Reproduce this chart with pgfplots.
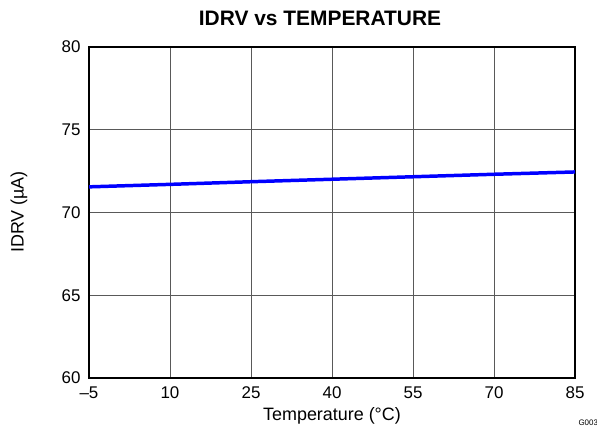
\documentclass[border=0pt]{standalone}
\usepackage{pgfplots}
\pgfplotsset{compat=1.18}
\usepackage{fontspec}
\setmainfont{Liberation Sans}
\begin{document}
\begin{tikzpicture}[x=1bp,y=1bp]
\path[use as bounding box] (-89,-53) rectangle (508,378);
\begin{axis}[
  at={(0,0)}, anchor=south west,
  scale only axis,
  width=486bp, height=331bp,
  xmin=-5, xmax=85, ymin=60, ymax=80,
  xtick={-5,10,25,40,55,70,85},
  xticklabels={\textendash5,10,25,40,55,70,85},
  ytick={60,65,70,75,80},
  grid=major,
  major grid style={line width=0.8pt, draw=black!65},
  axis line style={line width=2pt, black},
  tick style={draw=none},
  /pgf/number format/assume math mode=true,
  ticklabel style={font=\fontsize{17}{19}\selectfont},
  xticklabel style={yshift=-5bp},
  yticklabel style={xshift=-5bp},
]
\addplot[line width=3.5pt, color={rgb,1:red,0;green,0;blue,1}] coordinates {
(-5,71.55) (10,71.70) (25,71.86) (40,72.01) (55,72.16) (70,72.31) (85,72.45)
};
\end{axis}
\node[font=\bfseries\fontsize{21}{23}\selectfont] at (231,360) {IDRV vs TEMPERATURE};
\node[font=\fontsize{18}{20}\selectfont, rotate=90] at (-70,166) {IDRV (µA)};
\node[font=\fontsize{18}{20}\selectfont] at (243,-38) {Temperature (°C)};
\node[font=\fontsize{8}{9}\selectfont, anchor=west] at (486,-45) {G003};
\end{tikzpicture}
\end{document}
